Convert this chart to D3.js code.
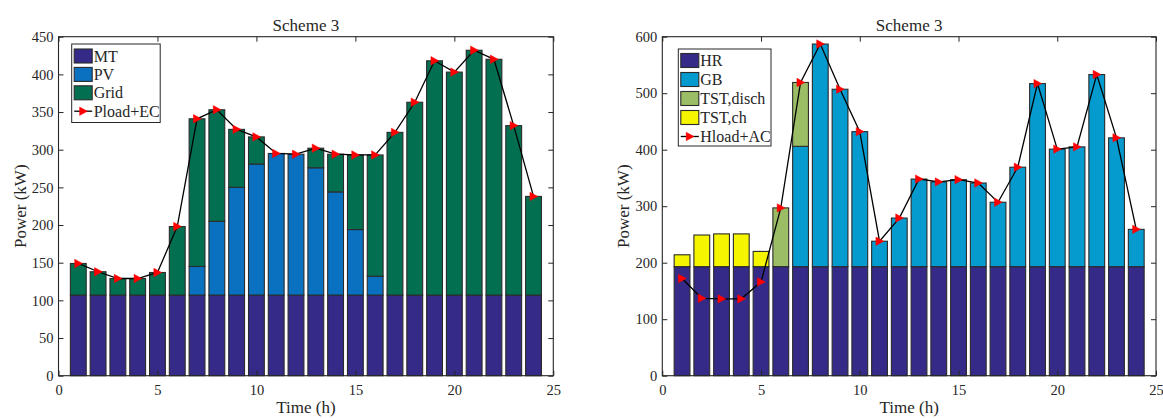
<!DOCTYPE html>
<html>
<head>
<meta charset="utf-8">
<script src="https://cdn.jsdelivr.net/npm/d3@7"></script>
<style>
  html, body { margin: 0; padding: 0; background: #fff; }
  svg { display: block; }
  text { font-family: "Liberation Serif", "Times New Roman", serif; fill: #262626; }
</style>
</head>
<body>
<svg id="chart" width="1163" height="418"></svg>
<script>
// Hours of the day
const hours = d3.range(1, 25);

// Electric balance (kW)
const MT   = [107,107,107,107,107,107,107,107,107,107,107,107,107,107,107,107,107,107,107,107,107,107,107,107];
const PV   = [0,0,0,0,0,0,38,98,143,174,188,187,169,137,87,25,0,0,0,0,0,0,0,0];
const Grid = [42,31,22,22,30,91,196,148,77,36,0,0,26,50,99,161,216,256,311,296,325,313,225,131];
const PloadEC = [149,138,129,129,137,198,341,353,327,317,295,294,302,294,293,293,323,363,418,403,432,420,332,238];

// Heat balance (kW)
const HR   = [193,193,193,193,193,193,193,193,193,193,193,193,193,193,193,193,193,193,193,193,193,193,193,193];
const GB   = [0,0,0,0,0,0,213,394,314,239,45,86,155,150,154,148,114,176,324,208,212,340,228,66];
const TSTdisch = [0,0,0,0,0,104,113,0,0,0,0,0,0,0,0,0,0,0,0,0,0,0,0,0];
const TSTch    = [21,56,58,58,27,0,0,0,0,0,0,0,0,0,0,0,0,0,0,0,0,0,0,0];
const HloadAC  = [172,137,136,136,166,297,519,587,507,432,238,279,348,343,347,341,307,369,517,401,405,533,421,259];

// Axis ticks
const xTicks = [0, 5, 10, 15, 20, 25];
const yTicksLeft = [0, 50, 100, 150, 200, 250, 300, 350, 400, 450];
const yTicksRight = [0, 100, 200, 300, 400, 500, 600];

const svg = d3.select("#chart");
svg.append("rect").attr("width", 1163).attr("height", 418).attr("fill", "#fff");

const triPath = "M-3.6,-4.2 L4.2,0 L-3.6,4.2 Z";

function drawPanel(opt) {
  const g = svg.append("g");
  const x = d3.scaleLinear().domain([0, 25]).range([opt.left, opt.right]);
  const y = d3.scaleLinear().domain([0, opt.ymax]).range([opt.bottom, opt.top]);

  // stacked bars
  const rows = hours.map((h, i) => {
    const r = { hour: h };
    opt.series.forEach(s => { r[s.key] = s.values[i]; });
    return r;
  });
  const stack = d3.stack().keys(opt.series.map(s => s.key))(rows);
  const bw = x(0.8) - x(0);
  stack.forEach((layer, li) => {
    g.append("g").selectAll("rect")
      .data(layer.filter(d => d[1] - d[0] > 0))
      .join("rect")
      .attr("x", d => x(d.data.hour) - bw / 2)
      .attr("width", bw)
      .attr("y", d => y(d[1]))
      .attr("height", d => y(d[0]) - y(d[1]))
      .attr("fill", opt.series[li].color)
      .attr("stroke", "#2b2b2b")
      .attr("stroke-width", 1.1);
  });

  // load line with markers
  const line = d3.line().x((d, i) => x(hours[i])).y(d => y(d));
  g.append("path").datum(opt.load)
    .attr("d", line).attr("fill", "none")
    .attr("stroke", "#000").attr("stroke-width", 1.3);
  g.append("g").selectAll("path")
    .data(opt.load)
    .join("path")
    .attr("d", triPath)
    .attr("transform", (d, i) => `translate(${x(hours[i])},${y(d)})`)
    .attr("fill", "#ff0000").attr("stroke", "#ff0000").attr("stroke-width", 0.5);

  // axes with inward ticks on all four sides
  const tickStyle = sel => {
    sel.select(".domain").remove();
    sel.selectAll("line").attr("stroke", "#262626");
    sel.selectAll("text").style("font-size", "14.5px").style("font-family", "Liberation Serif, serif").attr("fill", "#262626");
  };
  g.append("g").attr("transform", `translate(0,${opt.bottom})`)
    .call(d3.axisBottom(x).tickValues(xTicks).tickSizeInner(-5).tickSizeOuter(0).tickPadding(9))
    .call(tickStyle);
  g.append("g").attr("transform", `translate(0,${opt.top})`)
    .call(d3.axisTop(x).tickValues(xTicks).tickSizeInner(-5).tickSizeOuter(0).tickFormat(""))
    .call(tickStyle);
  g.append("g").attr("transform", `translate(${opt.left},0)`)
    .call(d3.axisLeft(y).tickValues(opt.yTicks).tickSizeInner(-5).tickSizeOuter(0).tickPadding(5))
    .call(tickStyle);
  g.append("g").attr("transform", `translate(${opt.right},0)`)
    .call(d3.axisRight(y).tickValues(opt.yTicks).tickSizeInner(-5).tickSizeOuter(0).tickFormat(""))
    .call(tickStyle);
  g.append("rect")
    .attr("x", opt.left).attr("y", opt.top)
    .attr("width", opt.right - opt.left).attr("height", opt.bottom - opt.top)
    .attr("fill", "none").attr("stroke", "#262626").attr("stroke-width", 1.1);

  // title and axis labels
  const cx = (opt.left + opt.right) / 2;
  g.append("text").attr("x", cx).attr("y", 31).attr("text-anchor", "middle")
    .style("font-size", "17px").text(opt.title);
  g.append("text").attr("x", cx).attr("y", 413).attr("text-anchor", "middle")
    .style("font-size", "17px").text("Time (h)");
  g.append("text")
    .attr("transform", `translate(${opt.left - 33},${(opt.top + opt.bottom) / 2}) rotate(-90)`)
    .attr("text-anchor", "middle")
    .style("font-size", "17px").text("Power (kW)");

  // legend
  const L = opt.legend;
  const lg = g.append("g");
  lg.append("rect").attr("x", L.x).attr("y", L.y).attr("width", L.w).attr("height", L.h)
    .attr("fill", "#fff").attr("stroke", "#262626").attr("stroke-width", 1);
  const entries = opt.series.map(s => ({ label: s.label, color: s.color, type: "bar" }))
    .concat([{ label: opt.loadLabel, type: "line" }]);
  entries.forEach((e, i) => {
    const cy = L.row0 + i * L.step;
    if (e.type === "bar") {
      lg.append("rect").attr("x", L.sx).attr("y", cy - 7).attr("width", 18).attr("height", 14)
        .attr("fill", e.color).attr("stroke", "#2b2b2b").attr("stroke-width", 1.1);
    } else {
      lg.append("line").attr("x1", L.sx).attr("x2", L.sx + 18).attr("y1", cy).attr("y2", cy)
        .attr("stroke", "#000").attr("stroke-width", 1.3);
      lg.append("path").attr("d", triPath).attr("transform", `translate(${L.sx + 9},${cy})`)
        .attr("fill", "#ff0000").attr("stroke", "#ff0000").attr("stroke-width", 0.5);
    }
    lg.append("text").attr("x", L.sx + 19.5).attr("y", cy + 5.5)
      .style("font-size", "16px").text(e.label);
  });
}

drawPanel({
  title: "Scheme 3",
  left: 58.5, right: 553.3, top: 36.7, bottom: 375.7,
  ymax: 450, yTicks: yTicksLeft,
  series: [
    { key: "MT", label: "MT", values: MT, color: "#352a87" },
    { key: "PV", label: "PV", values: PV, color: "#0a71c1" },
    { key: "Grid", label: "Grid", values: Grid, color: "#036f51" }
  ],
  load: PloadEC, loadLabel: "Pload+EC",
  legend: { x: 71.7, y: 44, w: 88.5, h: 78.5, sx: 74.2, row0: 56, step: 18.4 }
});

drawPanel({
  title: "Scheme 3",
  left: 662.3, right: 1156, top: 36.7, bottom: 375.7,
  ymax: 600, yTicks: yTicksRight,
  series: [
    { key: "HR", label: "HR", values: HR, color: "#352a87" },
    { key: "GB", label: "GB", values: GB, color: "#069bcf" },
    { key: "TSTdisch", label: "TST,disch", values: TSTdisch, color: "#9abd65" },
    { key: "TSTch", label: "TST,ch", values: TSTch, color: "#f5f500" }
  ],
  load: HloadAC, loadLabel: "Hload+AC",
  legend: { x: 678.3, y: 49, w: 92.7, h: 97, sx: 680.8, row0: 60.5, step: 19 }
});
</script>
</body>
</html>
